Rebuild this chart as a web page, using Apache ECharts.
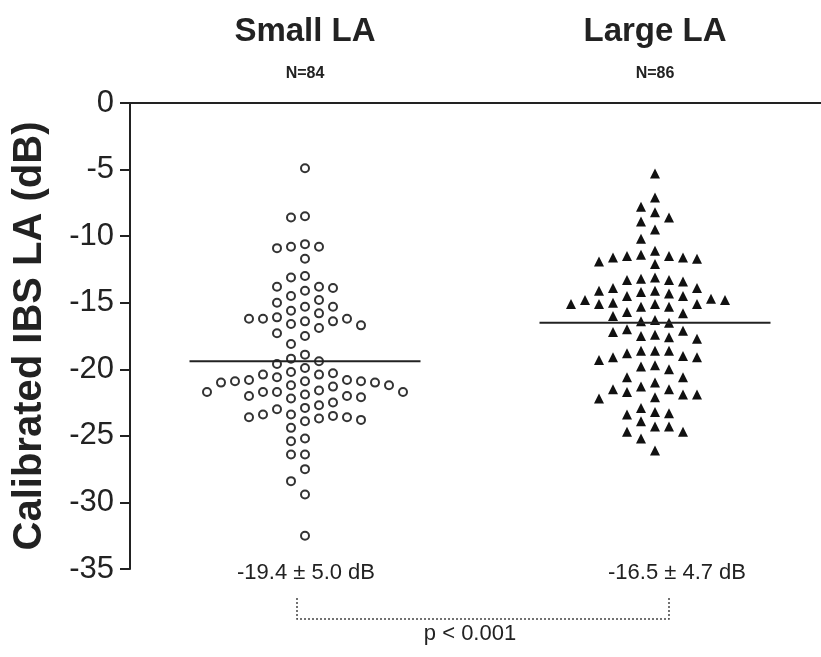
<!DOCTYPE html>
<html>
<head>
<meta charset="utf-8">
<script src="https://cdn.jsdelivr.net/npm/echarts@6/dist/echarts.min.js"></script>
<style>
html, body { margin: 0; padding: 0; background: #fff; overflow: hidden; }
/* a little wider than the window: the top axis runs off the right edge as in the figure */
#chart { width: 830px; height: 657px; }
</style>
</head>
<body>
<div id="chart"></div>
<script>
// ---- data ----
var groups = ['Small LA', 'Large LA'];
var counts = [84, 86];
var means = [-19.4, -16.5];
var sds = [5.0, 4.7];
var pText = 'p < 0.001';
var yTicks = [0, -5, -10, -15, -20, -25, -30, -35];

var smallLA = [
    -4.9,
    -8.5, -8.6,
    -10.6, -10.8, -10.8, -10.9,
    -11.7,
    -13.0, -13.1,
    -13.8, -13.8, -13.9, -14.1,
    -14.5, -14.8,
    -15.0, -15.3, -15.3, -15.6, -15.8,
    -16.1, -16.2, -16.2, -16.2, -16.4, -16.4,
    -16.6, -16.7, -16.9,
    -17.3, -17.5,
    -18.1, -18.9, -19.2, -19.4, -19.6, -19.9,
    -20.2, -20.3, -20.4, -20.4, -20.6,
    -20.8, -20.9, -21.0, -21.2, -21.3, -21.2, -21.0, -20.9, -20.9, -20.8,
    -22.0, -21.6, -22.1, -21.7, -21.7, -21.7, -21.7, -22.2, -22.0, -21.9,
    -22.5, -22.9, -22.7,
    -23.4, -23.5, -23.6, -23.7, -23.9, -23.8, -24.4, -23.6, -23.4, -23.0,
    -25.2, -25.4,
    -26.4, -26.4, -27.5, -28.4, -29.4, -32.5
];

var largeLA = [
    -5.3, -7.1, -7.8, -8.2, -8.9, -8.6, -9.5, -10.2,
    -11.1, -11.5, -11.6, -11.7, -12.1, -11.9, -11.6, -11.5, -11.4,
    -13.3, -13.4, -13.1, -13.3, -13.2,
    -13.9, -14.1, -14.2, -14.3, -14.1, -13.9,
    -14.5, -14.8, -14.8, -15.1, -15.1, -15.3, -15.3, -15.1, -15.1, -15.0, -14.7, -14.5,
    -15.8, -16.0, -15.7,
    -16.3, -16.5, -16.4,
    -17.2, -17.4, -17.6, -17.7, -17.5, -17.1, -17.0,
    -18.6, -18.8, -18.6, -18.6, -19.1, -19.0,
    -19.1, -19.3,
    -19.8, -20.6, -20.0, -19.7, -20.6,
    -21.0,
    -21.3, -21.5,
    -21.9, -22.1, -22.2, -21.9, -21.7, -21.5,
    -23.2, -23.4, -23.3, -22.9,
    -24.3, -24.7, -24.7, -24.3, -23.9,
    -25.2, -26.1
];

// ---- layout helpers ----
var FONT = '"Liberation Sans", Arial, Helvetica, sans-serif';
var INK = '#222';
var colStep = 0.04;     // horizontal slot width, in hidden-axis units
var minGap = 1.0;       // vertical clearance in dB before a point needs a new slot

// simple beeswarm: walk values top-down, put each one in the nearest free slot
function swarm(values, centre) {
    var sorted = values.slice().sort(function (a, b) { return b - a; });
    var lastInCol = {};
    var out = [];
    sorted.forEach(function (v) {
        for (var k = 0; ; k++) {
            var c = (k % 2 === 0) ? k / 2 : -(k + 1) / 2;
            var last = lastInCol[c];
            if (last === undefined || Math.abs(last - v) >= minGap) {
                lastInCol[c] = v;
                out.push([centre + c * colStep, v]);
                break;
            }
        }
    });
    return out;
}

function meanLine(i) {
    var c = i + 0.5;
    return [[c - 0.33, means[i]], [c + 0.33, means[i]]];
}

var myChart = echarts.init(document.getElementById('chart'));

option = {
    animation: false,
    grid: { left: 130, right: 0, top: 103, bottom: 88 },
    xAxis: [
        {
            type: 'category',
            position: 'top',
            data: groups,
            axisLine: { lineStyle: { color: INK, width: 2 } },
            axisTick: { alignWithLabel: true, length: 9, lineStyle: { color: INK, width: 2 } },
            axisLabel: {
                margin: 18,
                formatter: function (v, idx) {
                    return '{t|' + v + '}\n{n|N=' + counts[idx] + '}';
                },
                rich: {
                    t: { fontFamily: FONT, fontSize: 33, fontWeight: 'bold', color: INK, lineHeight: 62 },
                    n: { fontFamily: FONT, fontSize: 16, fontWeight: 'bold', color: INK, lineHeight: 22 }
                }
            },
            splitLine: { show: false }
        },
        {
            type: 'value',
            min: 0,
            max: 2,
            show: false
        }
    ],
    yAxis: {
        type: 'value',
        min: yTicks[yTicks.length - 1],
        max: yTicks[0],
        interval: 5,
        name: 'Calibrated IBS LA (dB)',
        nameLocation: 'middle',
        nameGap: 80,
        nameTextStyle: { fontFamily: FONT, fontSize: 40, fontWeight: 'bold', color: INK },
        axisLine: { show: true, lineStyle: { color: INK, width: 2 } },
        axisTick: { show: true, length: 10, lineStyle: { color: INK, width: 2 } },
        axisLabel: { fontFamily: FONT, fontSize: 31, color: INK, margin: 16 },
        splitLine: { show: false }
    },
    series: [
        {
            name: groups[0],
            type: 'scatter',
            xAxisIndex: 1,
            symbol: 'circle',
            symbolSize: 8,
            itemStyle: { color: '#fff', borderColor: '#333', borderWidth: 2, opacity: 1 },
            data: swarm(smallLA, 0.5)
        },
        {
            name: groups[1],
            type: 'scatter',
            xAxisIndex: 1,
            symbol: 'triangle',
            symbolSize: 10,
            itemStyle: { color: '#111', opacity: 1 },
            data: swarm(largeLA, 1.5)
        },
        {
            type: 'line',
            xAxisIndex: 1,
            symbol: 'none',
            silent: true,
            lineStyle: { color: INK, width: 2 },
            data: meanLine(0)
        },
        {
            type: 'line',
            xAxisIndex: 1,
            symbol: 'none',
            silent: true,
            lineStyle: { color: INK, width: 2 },
            data: meanLine(1)
        }
    ],
    graphic: [
        {
            type: 'text', x: 306, y: 573,
            style: {
                text: means[0].toFixed(1) + ' \u00b1 ' + sds[0].toFixed(1) + ' dB',
                font: '22px ' + FONT, fill: INK, align: 'center', verticalAlign: 'middle'
            }
        },
        {
            type: 'text', x: 677, y: 573,
            style: {
                text: means[1].toFixed(1) + ' \u00b1 ' + sds[1].toFixed(1) + ' dB',
                font: '22px ' + FONT, fill: INK, align: 'center', verticalAlign: 'middle'
            }
        },
        {
            type: 'polyline',
            shape: { points: [[297, 598], [297, 619], [669, 619], [669, 598]] },
            style: { stroke: '#444', lineWidth: 1.5, lineDash: [2, 2], fill: null }
        },
        {
            type: 'text', x: 470, y: 634,
            style: {
                text: pText,
                font: '22px ' + FONT, fill: INK, align: 'center', verticalAlign: 'middle'
            }
        }
    ]
};

myChart.setOption(option, true);
</script>
</body>
</html>
